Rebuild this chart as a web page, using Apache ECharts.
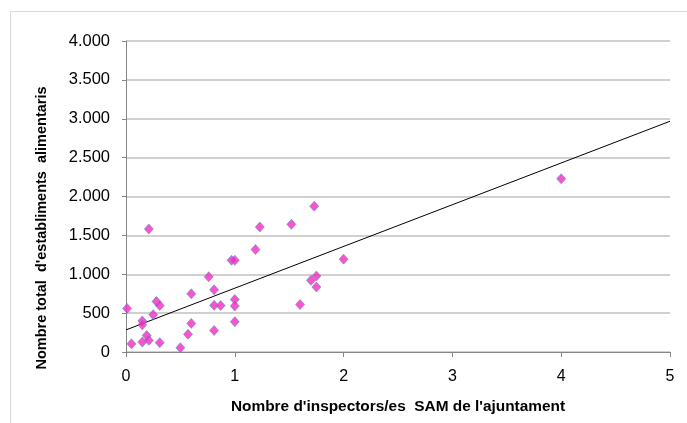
<!DOCTYPE html>
<html><head><meta charset="utf-8">
<script src="https://cdn.jsdelivr.net/npm/echarts@6/dist/echarts.min.js"></script>
<style>html,body{margin:0;padding:0;background:#fff}#c{width:687px;height:423px}</style>
</head><body><div id="c"></div>
<script>
const inspectors = [0.01,0.05,0.15,0.15,0.15,0.19,0.21,0.21,0.25,0.28,0.31,0.31,0.5,0.57,0.6,0.6,0.76,0.81,0.81,0.81,0.87,0.97,1.0,1.0,1.0,1.0,1.19,1.23,1.52,1.6,1.7,1.73,1.75,1.75,2.0,4.0];
const establiments = [560,105,400,350,128,212,1582,150,480,650,598,120,55,228,748,368,968,800,600,276,597,1180,1180,675,592,390,1318,1608,1642,610,922,1876,977,836,1194,2228];
const trendX = [0,5];
const trendY = [284,2968];
const xTitle = "Nombre d'inspectors/es  SAM de l'ajuntament";
const yTitle = "Nombre total  d'establiments  alimentaris";

const points = inspectors.map((x,i)=>[x, establiments[i]]);
const trend = trendX.map((x,i)=>[x, trendY[i]]);
const chart = echarts.init(document.getElementById('c'), null, {renderer:'canvas'});
const font = 'Liberation Sans';
function fmt(v){
  const s = String(Math.round(v));
  return s.replace(/\B(?=(\d{3})+(?!\d))/g, '.');
}
chart.setOption({
  animation:false,
  graphic:[
    {type:'rect', shape:{x:10.5,y:11.5,width:700,height:450}, style:{fill:'none', stroke:'#d9d9d9', lineWidth:1}, z:-1},
    {type:'text', x:42, y:228, rotation:Math.PI/2,
     style:{text:yTitle, fontFamily:font, fontWeight:'bold', fontSize:14.5, fill:'#000', align:'center', verticalAlign:'middle'}}
  ],
  grid:{left:126, right:17, top:41, bottom:71},
  xAxis:{type:'value', min:0, max:5, interval:1,
    name:xTitle, nameLocation:'middle', nameGap:47,
    nameTextStyle:{fontFamily:font, fontWeight:'bold', fontSize:15.4, color:'#000'},
    axisLine:{show:true, lineStyle:{color:'#868686', width:1}},
    axisTick:{show:true, length:5, lineStyle:{color:'#868686'}},
    axisLabel:{fontFamily:font, fontSize:16, color:'#000', margin:17},
    splitLine:{show:false}},
  yAxis:{type:'value', min:0, max:4000, interval:500,
    axisLine:{show:true, lineStyle:{color:'#868686', width:1}},
    axisTick:{show:true, length:4, lineStyle:{color:'#868686'}},
    axisLabel:{fontFamily:font, fontSize:16.5, color:'#000', margin:16, formatter:fmt},
    splitLine:{show:true, lineStyle:{color:'#c0c0c0', width:1.5}}},
  series:[
    {type:'line', data:trend, symbol:'none', lineStyle:{color:'#000', width:1}, z:3},
    {type:'scatter', data:points, symbol:'diamond', symbolSize:[9,10],
     itemStyle:{color:'#f52abb', borderColor:'#6a88d8', borderWidth:0.8}, z:4}
  ]
});
</script></body></html>
